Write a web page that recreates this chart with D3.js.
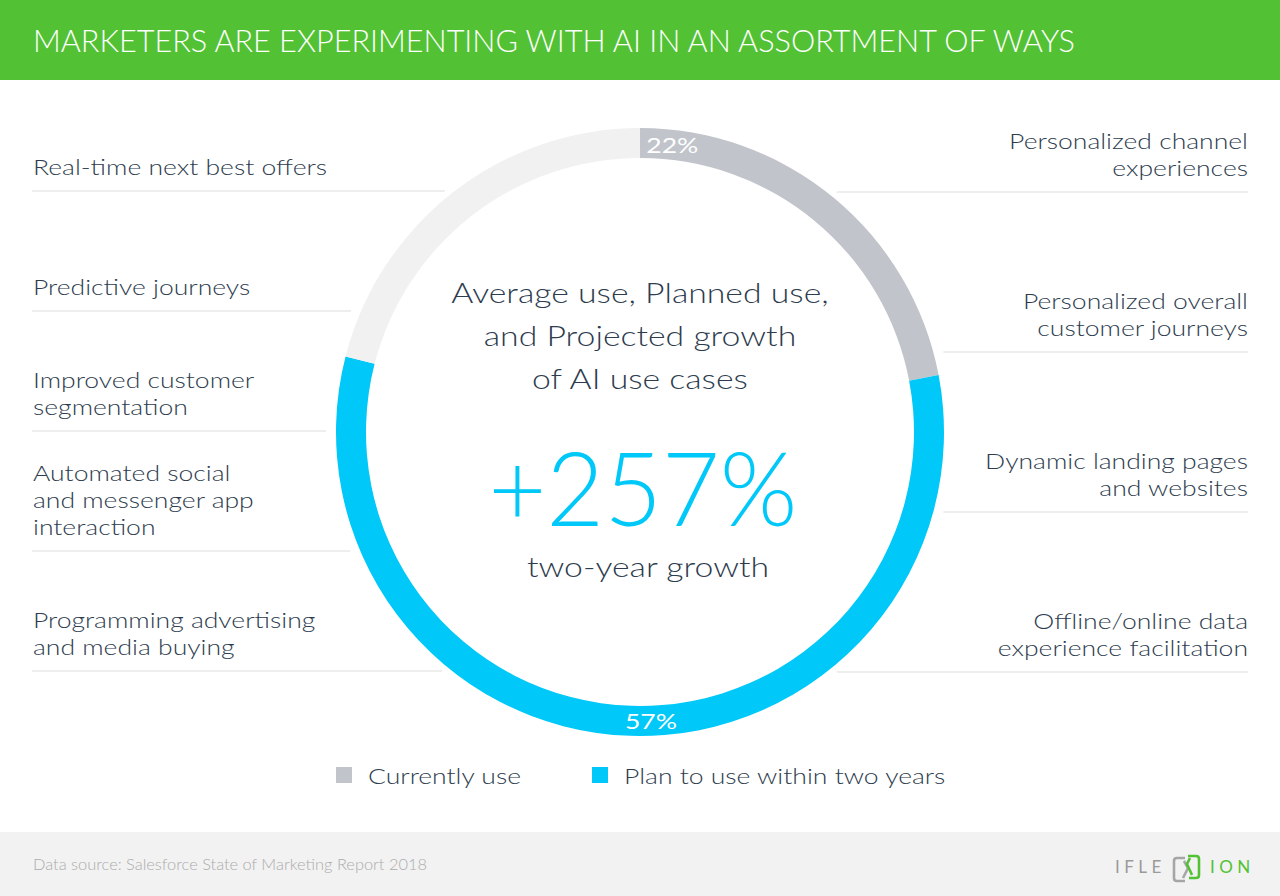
<!DOCTYPE html>
<html><head><meta charset="utf-8">
<script src="https://cdn.jsdelivr.net/npm/d3@7"></script>
<style>
body{margin:0;background:#fff;}
svg{display:block;font-family:Lato,'Open Sans',sans-serif;}
</style>
</head><body>
<svg id="c" width="1280" height="896"></svg>
<script>
// ---------- data ----------
const title = "MARKETERS ARE EXPERIMENTING WITH AI IN AN ASSORTMENT OF WAYS";
const seriesNames = ["Currently use", "Plan to use within two years"];
const seriesValues = [22, 57];
const leftUseCases = [
  ["Real-time next best offers"],
  ["Predictive journeys"],
  ["Improved customer", "segmentation"],
  ["Automated social", "and messenger app", "interaction"],
  ["Programming advertising", "and media buying"]
];
const rightUseCases = [
  ["Personalized channel", "experiences"],
  ["Personalized overall", "customer journeys"],
  ["Dynamic landing pages", "and websites"],
  ["Offline/online data", "experience facilitation"]
];
const centerLines = ["Average use, Planned use,", "and Projected growth", "of AI use cases"];
const growthValue = "+257%";
const growthLabel = "two-year growth";
const sourceText = "Data source: Salesforce State of Marketing Report 2018";

// ---------- styles / layout ----------
const C = {
  green: "#52c234", gray: "#c1c5cb", cyan: "#00c8f8", rest: "#f1f1f1",
  text: "#2d3c4e", rule: "#eeeeee", footer: "#f2f2f2", source: "#acacac"
};
const W = 1280, H = 896;
const cx = 640, cy = 432, R = 304, r = 274;
const labelSize = 22;
const svg = d3.select("#c");

function condense(sel, k) {
  sel.each(function () {
    const w = this.getComputedTextLength();
    d3.select(this).attr("textLength", w * k).attr("lengthAdjust", "spacingAndGlyphs");
  });
}

// header
svg.append("rect").attr("width", W).attr("height", 80).attr("fill", C.green);
svg.append("text").attr("x", 33).attr("y", 52).attr("fill", "#fff")
  .attr("font-size", 32).attr("font-weight", 300).text(title)
  .attr("textLength", 1042).attr("lengthAdjust", "spacingAndGlyphs");

// calibrate width factor with first label
const probe = svg.append("text").attr("font-size", labelSize).attr("font-weight", 300).text(leftUseCases[0][0]);
const K = 294 / probe.node().getComputedTextLength();
probe.remove();

// rows
const yLeft = d3.scalePoint().domain(d3.range(leftUseCases.length)).range([191, 671]);
const yRight = d3.scalePoint().domain(d3.range(rightUseCases.length)).range([192, 672]);
const gap = 10, lineH = 27, baseOff = 16;
function ringX(y) { const dy = y - cy; return Math.abs(dy) < R ? Math.sqrt(R * R - dy * dy) : 0; }

function drawLabel(g, lines, x, y, anchor) {
  lines.forEach((s, j) => {
    const t = g.append("text").attr("x", x).attr("y", y - baseOff - (lines.length - 1 - j) * lineH)
      .attr("text-anchor", anchor).attr("font-size", labelSize).attr("font-weight", 300)
      .attr("fill", C.text).text(s);
    condense(t, K);
  });
}

const gL = svg.append("g");
leftUseCases.forEach((lines, i) => {
  const y = yLeft(i);
  gL.append("line").attr("x1", 32).attr("x2", cx - ringX(y) - gap).attr("y1", y).attr("y2", y)
    .attr("stroke", C.rule).attr("stroke-width", 2);
  drawLabel(gL, lines, 33, y, "start");
});
const gR = svg.append("g");
rightUseCases.forEach((lines, i) => {
  const y = yRight(i);
  gR.append("line").attr("x1", cx + ringX(y) + gap).attr("x2", 1248).attr("y1", y).attr("y2", y)
    .attr("stroke", C.rule).attr("stroke-width", 2);
  drawLabel(gR, lines, 1248, y, "end");
});

// donut
const pieData = seriesValues.concat([100 - d3.sum(seriesValues)]);
const colors = [C.gray, C.cyan, C.rest];
const pie = d3.pie().sort(null).value(d => d);
const arcs = pie(pieData);
const arc = d3.arc().innerRadius(r).outerRadius(R);
const gD = svg.append("g").attr("transform", `translate(${cx},${cy})`);
gD.selectAll("path").data(arcs).join("path").attr("d", arc).attr("fill", (d, i) => colors[i]);

// percent labels on ring
const mid = (r + R) / 2;
const labelAngles = [arcs[0].startAngle + 0.112, Math.PI - 0.038];
seriesValues.forEach((v, i) => {
  const a = labelAngles[i];
  const t = gD.append("text").attr("x", mid * Math.sin(a)).attr("y", -mid * Math.cos(a))
    .attr("dy", "0.36em").attr("text-anchor", "middle").attr("fill", "#fff")
    .attr("font-size", 22).attr("font-weight", 400).text(v + "%");
  condense(t, K);
});

// center text
centerLines.forEach((s, i) => {
  const t = svg.append("text").attr("x", cx).attr("y", 303 + i * 43).attr("text-anchor", "middle")
    .attr("font-size", 28).attr("font-weight", 300).attr("fill", C.text).text(s);
  condense(t, K);
});
svg.append("text").attr("x", 643).attr("y", 526).attr("text-anchor", "middle")
  .attr("font-size", 102).attr("font-weight", 300).attr("fill", C.cyan).text(growthValue)
  .attr("textLength", 309).attr("lengthAdjust", "spacingAndGlyphs");
const gl = svg.append("text").attr("x", 648).attr("y", 577).attr("text-anchor", "middle")
  .attr("font-size", 28).attr("font-weight", 300).attr("fill", C.text).text(growthLabel);
condense(gl, K);

// legend
const legX = d3.scalePoint().domain(seriesNames).range([336, 592]);
seriesNames.forEach((n, i) => {
  const x = legX(n);
  svg.append("rect").attr("x", x).attr("y", 767).attr("width", 16).attr("height", 16).attr("fill", colors[i]);
  const t = svg.append("text").attr("x", x + 32).attr("y", 784).attr("font-size", labelSize)
    .attr("font-weight", 300).attr("fill", C.text).text(n);
  condense(t, K);
});

// footer
svg.append("rect").attr("y", 832).attr("width", W).attr("height", H - 832).attr("fill", C.footer);
svg.append("text").attr("x", 33).attr("y", 870).attr("font-size", 16).attr("font-weight", 300)
  .attr("fill", C.source).text(sourceText)
  .attr("textLength", 394).attr("lengthAdjust", "spacingAndGlyphs");

// logo
const lg = svg.append("g");
lg.append("text").attr("x", 1115).attr("y", 873).attr("font-size", 17).attr("font-weight", 400)
  .attr("fill", "#9a9a9a").attr("letter-spacing", 4.5).text("IFLE");
lg.append("path").attr("d", "M1185,858 h-8 q-3,0 -3,3 v17 q0,3 3,3 h8 M1184,861 l4,7 -5,10")
  .attr("fill", "none").attr("stroke", "#a6a6a6").attr("stroke-width", 2.6);
lg.append("path").attr("d", "M1188,856 h8 q3,0 3,3 v16 q0,3 -3,3 h-7 M1190,858 l-3,6 5,11")
  .attr("fill", "none").attr("stroke", C.green).attr("stroke-width", 2.6);
lg.append("text").attr("x", 1210).attr("y", 873).attr("font-size", 17).attr("font-weight", 400)
  .attr("fill", C.green).attr("letter-spacing", 4.5).text("ION");
</script>
</body></html>
